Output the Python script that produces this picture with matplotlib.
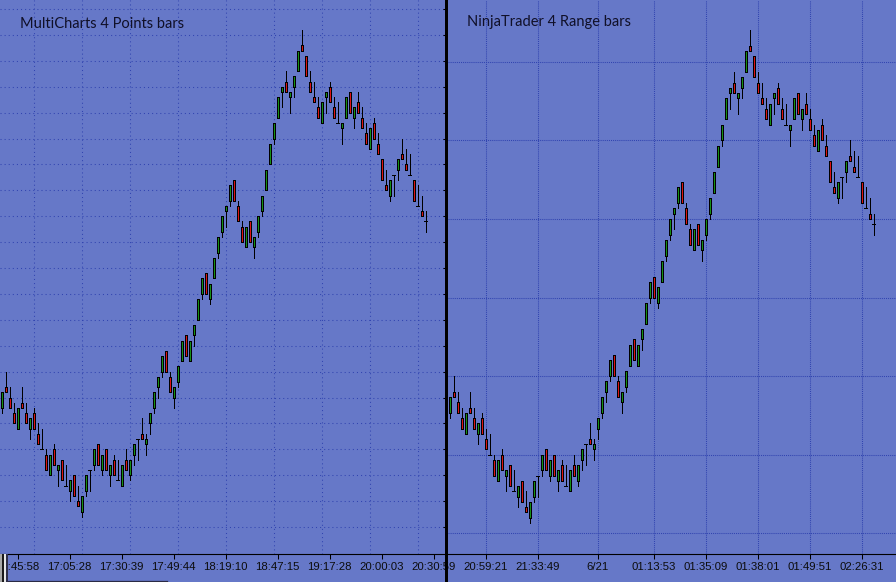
import numpy as np
import matplotlib
matplotlib.use("Agg")
import matplotlib.pyplot as plt
from matplotlib.patches import Rectangle
from matplotlib.lines import Line2D

plt.rcParams["lines.scale_dashes"] = False

# 4-point range bars, same series shown by both platforms
opens = [1323, 1327, 1325, 1322, 1319, 1324, 1322, 1319, 1322, 1318,
         1315, 1314, 1310, 1315, 1311, 1313, 1308, 1307, 1310, 1305,
         1303, 1307, 1311, 1312, 1316, 1311, 1315, 1310, 1313, 1309,
         1308, 1313, 1310, 1314, 1317, 1318, 1316, 1320, 1323, 1327,
         1330, 1334, 1329, 1325, 1328, 1332, 1337, 1332, 1337, 1340,
         1345, 1349, 1344, 1348, 1353, 1357, 1361, 1363, 1367, 1362,
         1358, 1354, 1359, 1354, 1357, 1361, 1365, 1370, 1375, 1379,
         1384, 1386, 1383, 1385, 1388, 1393, 1391, 1386, 1383, 1381,
         1378, 1383, 1385, 1381, 1378, 1377, 1379, 1384, 1379, 1382,
         1379, 1376, 1373, 1378, 1374, 1371, 1366, 1364, 1368, 1369,
         1372, 1370, 1368, 1367, 1362, 1361, 1359]
highs = [1326, 1330, 1327, 1324, 1323, 1327, 1324, 1321, 1323, 1320,
         1319, 1315, 1314, 1316, 1312, 1313, 1312, 1309, 1310, 1308,
         1306, 1310, 1311, 1315, 1316, 1314, 1315, 1312, 1314, 1313,
         1312, 1315, 1313, 1316, 1317, 1321, 1318, 1322, 1326, 1329,
         1333, 1334, 1330, 1327, 1331, 1336, 1337, 1336, 1339, 1344,
         1348, 1349, 1347, 1352, 1356, 1360, 1362, 1366, 1367, 1363,
         1359, 1358, 1359, 1356, 1360, 1364, 1369, 1374, 1378, 1383,
         1385, 1388, 1384, 1387, 1392, 1396, 1391, 1388, 1386, 1383,
         1382, 1384, 1386, 1383, 1382, 1378, 1383, 1384, 1381, 1384,
         1381, 1378, 1377, 1379, 1376, 1371, 1369, 1367, 1368, 1371,
         1375, 1373, 1372, 1367, 1366, 1364, 1361]
lows = [1322, 1326, 1323, 1320, 1319, 1323, 1320, 1317, 1319, 1316,
        1315, 1311, 1310, 1312, 1308, 1309, 1308, 1305, 1306, 1304,
        1302, 1306, 1307, 1311, 1312, 1310, 1311, 1308, 1310, 1309,
        1308, 1311, 1309, 1312, 1313, 1317, 1314, 1318, 1322, 1325,
        1329, 1330, 1326, 1323, 1327, 1332, 1333, 1332, 1335, 1340,
        1344, 1345, 1343, 1348, 1352, 1356, 1358, 1362, 1363, 1359,
        1355, 1354, 1355, 1352, 1356, 1360, 1365, 1370, 1374, 1379,
        1381, 1384, 1380, 1383, 1388, 1392, 1387, 1384, 1382, 1379,
        1378, 1380, 1382, 1379, 1378, 1374, 1379, 1380, 1377, 1380,
        1377, 1374, 1373, 1375, 1372, 1367, 1365, 1363, 1364, 1367,
        1371, 1369, 1368, 1363, 1362, 1360, 1357]
closes = [1326, 1326, 1323, 1320, 1323, 1323, 1320, 1321, 1319, 1316,
          1315, 1311, 1314, 1312, 1312, 1309, 1308, 1309, 1306, 1304,
          1306, 1310, 1311, 1315, 1312, 1314, 1311, 1312, 1310, 1309,
          1312, 1311, 1313, 1316, 1317, 1317, 1317, 1322, 1326, 1329,
          1333, 1330, 1326, 1327, 1331, 1336, 1333, 1336, 1339, 1344,
          1348, 1345, 1347, 1352, 1356, 1360, 1362, 1366, 1363, 1359,
          1355, 1358, 1355, 1356, 1360, 1364, 1369, 1374, 1378, 1383,
          1385, 1384, 1384, 1387, 1392, 1392, 1387, 1384, 1382, 1379,
          1382, 1384, 1382, 1379, 1378, 1378, 1383, 1380, 1381, 1380,
          1377, 1374, 1377, 1375, 1372, 1367, 1365, 1367, 1368, 1371,
          1371, 1369, 1368, 1363, 1362, 1360, 1359]

# time axis labels (bar index -> label)
mc_tick_bars = [4, 17, 30, 43, 56, 69, 82, 95, 108]
mc_tick_labels = ["16:45:58", "17:05:28", "17:30:39", "17:49:44", "18:19:10",
                  "18:47:15", "19:17:28", "20:00:03", "20:30:59"]
nt_tick_bars = [9, 22, 37, 51, 64, 77, 90, 103, 116]
nt_tick_labels = ["20:59:21", "21:33:49", "6/21", "01:13:53", "01:35:09",
                  "01:38:01", "01:49:51", "02:26:31", "02:59:40"]

BG = "#6678c8"
GRID = "#3144b0"
UP = "#169016"
DOWN = "#dc1414"
W, H = 896, 582
PX = 0.72  # one pixel in points at 100 dpi


def draw_bars(ax):
    x = np.arange(len(opens))
    o = np.array(opens, float)
    c = np.array(closes, float)
    hi = np.array(highs, float)
    lo = np.array(lows, float)
    y0, y1 = ax.get_ylim()
    dy = (y1 - y0) / 554.0  # one pixel in price units
    top = np.maximum(o, c)
    bot = np.minimum(o, c)
    ax.vlines(x, lo, hi, color="black", lw=PX, zorder=3, antialiased=False)
    body = c != o
    # black 3px body, 1px coloured core
    ax.vlines(x[body], bot[body], top[body], color="black", lw=3 * PX,
              zorder=4, antialiased=False, capstyle="butt")
    cols = np.where(c > o, UP, DOWN)
    ax.vlines(x[body], bot[body] + dy, top[body] - dy, colors=list(cols[body]),
              lw=PX, zorder=5, antialiased=False, capstyle="butt")
    eq = ~body
    ax.hlines(o[eq], x[eq] - 0.5, x[eq] + 0.45, color="black", lw=PX,
              zorder=4, antialiased=False)


def style_axis(ax, tick_bars, tick_labels):
    ax.set_facecolor(BG)
    for s in ["top", "left", "right"]:
        ax.spines[s].set_visible(False)
    ax.spines["bottom"].set_color("black")
    ax.spines["bottom"].set_linewidth(0.8)
    ax.set_xticks(tick_bars)
    ax.set_xticklabels(tick_labels, fontfamily="Liberation Sans")
    ax.tick_params(axis="x", length=3.8, width=0.75, direction="out",
                   pad=1.6, labelsize=8.2, colors="black", labelcolor="#0c0c0c")
    for lab in ax.get_xticklabels():
        lab.set_clip_on(False)


fig = plt.figure(figsize=(W / 100, H / 100), dpi=100, facecolor=BG)

# left: MultiCharts (bar centres on pixel centres, 4 px apart)
ax_l = fig.add_axes([0, 28 / H, 446 / W, 554 / H])
style_axis(ax_l, mc_tick_bars, mc_tick_labels)
ax_l.set_xlim(-0.375, 111.125)
ax_l.set_ylim(1294.8, 1401.75)
for gx in range(8, 111, 12):
    ax_l.axvline(gx, color=GRID, lw=0.75, ls=(0, (0.75, 2.2)), zorder=1)
for gy in range(1300, 1401, 5):
    ax_l.axhline(gy, color=GRID, lw=0.75, ls=(0, (0.75, 2.2)), zorder=1)
ax_l.yaxis.tick_right()
ax_l.set_yticks(range(1300, 1401, 5))
ax_l.tick_params(axis="y", direction="in", length=2.5, width=0.75,
                 colors="black", labelright=False)
draw_bars(ax_l)

# right: NinjaTrader
ax_r = fig.add_axes([448 / W, 28 / H, 448 / W, 554 / H])
style_axis(ax_r, nt_tick_bars, nt_tick_labels)
ax_r.set_xlim(-0.375, 111.625)
ax_r.set_ylim(1296.05, 1401.78)
ax_r.set_yticks([])
for gx in nt_tick_bars:
    ax_r.axvline(gx, color=GRID, lw=0.75, ls=(0, (0.75, 0.75)), zorder=1)
for gy in range(1300, 1391, 15):
    ax_r.axhline(gy, color=GRID, lw=0.75, ls=(0, (0.75, 0.75)), zorder=1)
draw_bars(ax_r)

# chart captions
fig.text(20.5 / W, 1 - 28.3 / H, "MultiCharts 4 Points bars", fontfamily="Lato",
         fontsize=10.5, color="#101028", va="baseline", ha="left")
fig.text(467 / W, 1 - 26 / H, "NinjaTrader 4 Range bars", fontfamily="Lato",
         fontsize=10.5, color="#101028", va="baseline", ha="left")

# divider between the two screenshots
fig.add_artist(Rectangle((445.3 / W, 0), 2.8 / W, 1, transform=fig.transFigure,
                         facecolor="black", edgecolor="none", zorder=20))

# little scrollbar bits at the bottom-left corner
for x0, w, col in [(0, 2, "#a8a8a8"), (2, 2, "#1a1a1a"), (4, 2, "#e6e6e6"), (6, 1.5, "#30304a")]:
    fig.add_artist(Rectangle((x0 / W, 0), w / W, 28 / H, transform=fig.transFigure,
                             facecolor=col, edgecolor="none", zorder=20))
fig.add_artist(Line2D([7.5 / W, 167 / W], [1.0 / H, 1.0 / H], transform=fig.transFigure,
                      color="#2a2a44", lw=0.9, zorder=20))

fig.savefig("out.png", dpi=100, facecolor=BG)
